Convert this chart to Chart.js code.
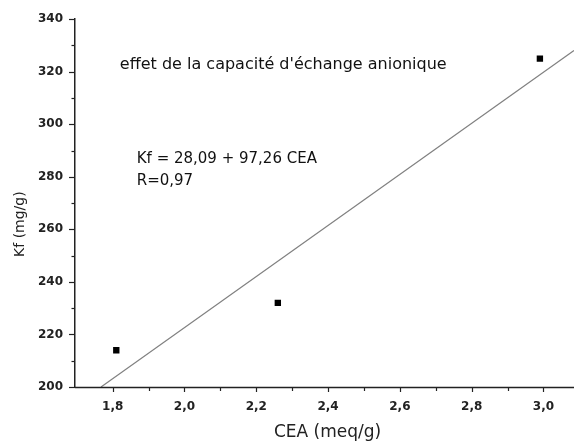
<!DOCTYPE html>
<html>
<head>
<meta charset="utf-8">
<script src="https://cdn.jsdelivr.net/npm/chart.js@4/dist/chart.umd.min.js"></script>
<style>
  html, body { margin: 0; padding: 0; background: #ffffff; overflow: hidden; }
  #wrap { width: 574px; height: 443px; position: relative; overflow: hidden; }
  canvas { display: block; }
</style>
</head>
<body>
<div id="wrap"><canvas id="c" width="574" height="443"></canvas></div>
<script>
// ---- data ----
const cea = [1.81, 2.26, 2.99];
const kf = [214, 232, 325];
// fitted line Kf = 28,09 + 97,26 CEA (end points)
const fitX = [1.7675, 3.085];
const fitY = [200, 328.1];
const xTicks = [1.8, 2.0, 2.2, 2.4, 2.6, 2.8, 3.0];
const yTicks = [200, 220, 240, 260, 280, 300, 320, 340];
const xMinor = [1.8, 1.9, 2.0, 2.1, 2.2, 2.3, 2.4, 2.5, 2.6, 2.7, 2.8, 2.9, 3.0];
const yMinor = [200, 210, 220, 230, 240, 250, 260, 270, 280, 290, 300, 310, 320, 330, 340];
const annTitle = "effet de la capacité d'échange anionique";
const annEq = ["Kf = 28,09 + 97,26 CEA", "R=0,97"];
const xTitle = "CEA (meq/g)";
const yTitle = "Kf (mg/g)";

Chart.defaults.font.family = "'DejaVu Sans', sans-serif";
Chart.defaults.color = '#222';

const fmt = v => v.toFixed(1).replace('.', ',');

// stretch the plot area to the right edge of the canvas
const stretchPlugin = {
  id: 'stretchPlugin',
  afterLayout(chart) {
    const xs = chart.scales.x;
    const right = chart.width;
    xs.right = right;
    xs.width = right - xs.left;
    xs.configure();
    chart.chartArea.right = right;
    chart.chartArea.width = right - chart.chartArea.left;
  }
};

const tickPlugin = {
  id: 'tickPlugin',
  afterDraw(chart) {
    const ctx = chart.ctx;
    const xs = chart.scales.x, ys = chart.scales.y;
    const ca = chart.chartArea;
    ctx.save();
    ctx.strokeStyle = '#222';
    ctx.lineWidth = 1.2;
    // x axis line (full width)
    ctx.lineWidth = 1.5;
    ctx.beginPath();
    ctx.moveTo(ca.left, ca.bottom + 0.5);
    ctx.lineTo(ca.right, ca.bottom + 0.5);
    ctx.stroke();
    ctx.lineWidth = 1.2;
    xMinor.forEach(v => {
      const major = xTicks.some(t => Math.abs(t - v) < 1e-6);
      const px = Math.round(xs.getPixelForValue(v)) + 0.5;
      ctx.beginPath();
      ctx.moveTo(px, ca.bottom);
      ctx.lineTo(px, ca.bottom + (major ? 5 : 4));
      ctx.stroke();
    });
    yMinor.forEach(v => {
      const major = yTicks.some(t => Math.abs(t - v) < 1e-6);
      const py = Math.round(ys.getPixelForValue(v)) + 0.5;
      ctx.beginPath();
      ctx.moveTo(ca.left, py);
      ctx.lineTo(ca.left - (major ? 6 : 3.5), py);
      ctx.stroke();
    });
    // texts
    ctx.fillStyle = '#111';
    ctx.textBaseline = 'middle';
    ctx.textAlign = 'left';
    ctx.font = "16px 'DejaVu Sans'";
    ctx.fillText(annTitle, xs.getPixelForValue(1.82), ys.getPixelForValue(322.6));
    ctx.font = "15px 'DejaVu Sans'";
    ctx.fillText(annEq[0], xs.getPixelForValue(1.867), ys.getPixelForValue(286.9));
    ctx.fillText(annEq[1], xs.getPixelForValue(1.867), ys.getPixelForValue(278.5));
    // axis titles
    ctx.textAlign = 'center';
    ctx.font = "17px 'DejaVu Sans'";
    ctx.fillStyle = '#222';
    ctx.fillText(xTitle, (ca.left + ca.right) / 2 + 3, 433);
    ctx.save();
    ctx.translate(20, ys.getPixelForValue(262));
    ctx.rotate(-Math.PI / 2);
    ctx.font = "14px 'DejaVu Sans'";
    ctx.fillText(yTitle, 0, 0);
    ctx.restore();
    ctx.restore();
  }
};

new Chart(document.getElementById('c'), {
  type: 'scatter',
  data: {
    datasets: [
      {
        label: 'Kf',
        data: cea.map((x, i) => ({ x: x, y: kf[i] })),
        pointStyle: 'rect',
        pointRadius: 4.5,
        pointBackgroundColor: '#000',
        pointBorderColor: '#000',
        pointBorderWidth: 0,
        showLine: false
      },
      {
        label: 'fit',
        data: fitX.map((x, i) => ({ x: x, y: fitY[i] })),
        showLine: true,
        borderColor: '#808080',
        borderWidth: 1.2,
        pointRadius: 0,
        fill: false
      }
    ]
  },
  options: {
    responsive: false,
    animation: false,
    devicePixelRatio: 1,
    layout: { padding: { left: 0, top: 19, right: 0, bottom: 0 } },
    plugins: { legend: { display: false }, tooltip: { enabled: false } },
    scales: {
      x: {
        type: 'linear',
        min: 1.695,
        max: 3.085,
        afterFit(s) { s.height = 56; s.paddingRight = 0; s.paddingLeft = 0; },
        afterBuildTicks(s) { s.ticks = xTicks.map(v => ({ value: v })); },
        grid: { display: true, drawOnChartArea: false, drawTicks: false },
        border: { display: false },
        ticks: {
          padding: 13,
          autoSkip: false,
          maxRotation: 0,
          font: { size: 12, weight: 'bold' },
          color: '#222',
          callback: v => fmt(v)
        }
      },
      y: {
        type: 'linear',
        min: 200,
        max: 340,
        afterFit(s) { s.width = 75; },
        afterBuildTicks(s) { s.ticks = yTicks.map(v => ({ value: v })); },
        grid: { display: true, drawOnChartArea: false, drawTicks: false },
        border: { display: true, color: '#222', width: 1.5 },
        ticks: {
          padding: 12,
          font: { size: 12, weight: 'bold' },
          color: '#222',
          callback: v => String(v)
        }
      }
    }
  },
  plugins: [stretchPlugin, tickPlugin]
});
</script>
</body>
</html>
